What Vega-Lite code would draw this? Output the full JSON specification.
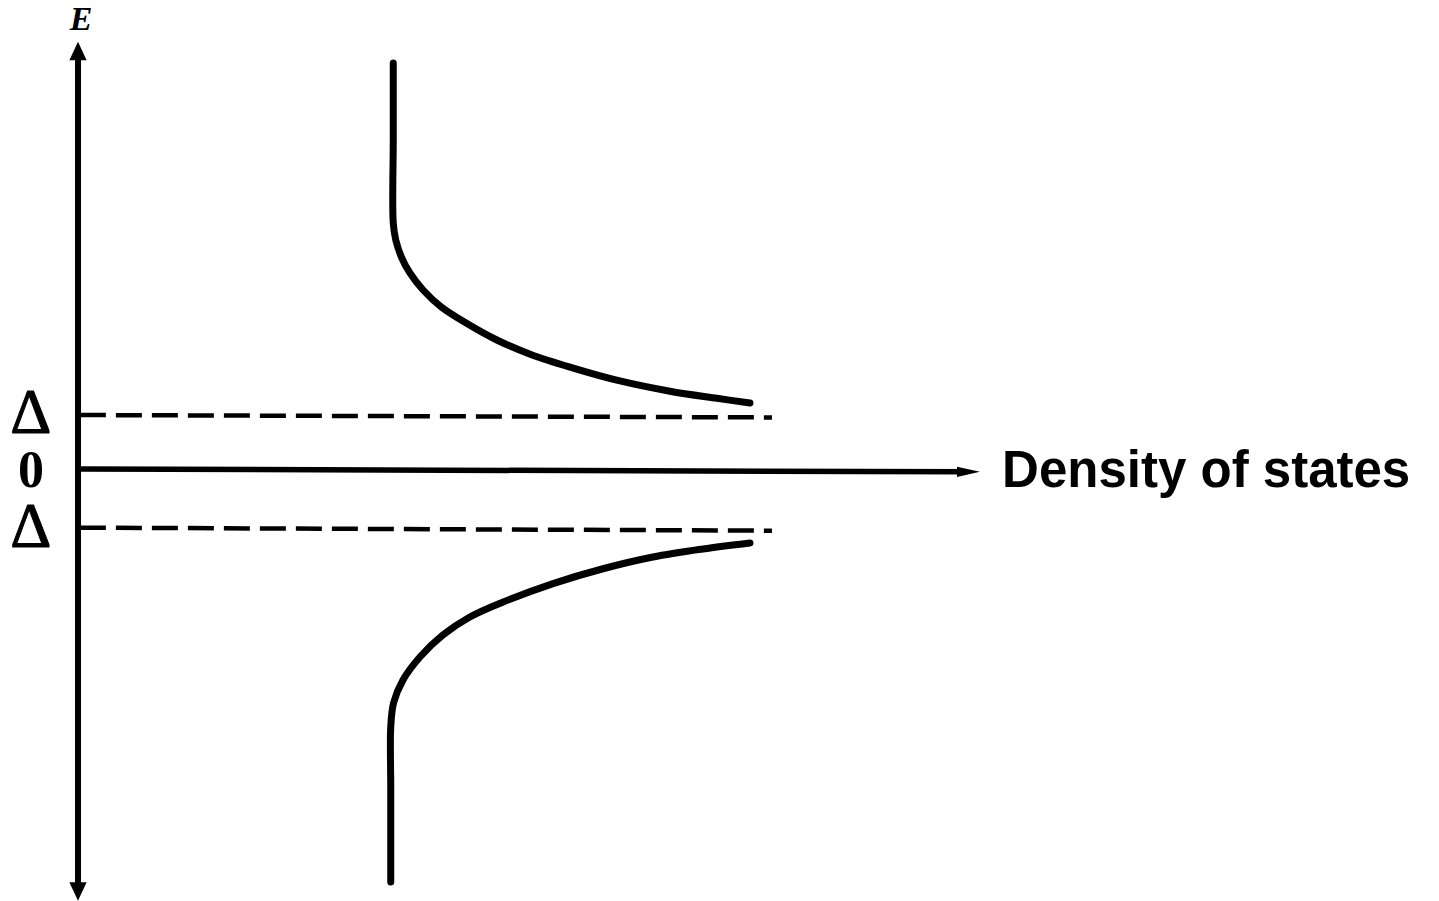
{
  "$schema": "https://vega.github.io/schema/vega-lite/v6.json",
  "width": 1439,
  "height": 901,
  "padding": 0,
  "autosize": {"type": "none"},
  "background": "white",
  "config": {"view": {"stroke": null}},
  "datasets": {
    "curves": [
      {"branch": "upper", "i": 1, "dos": 1.004, "E": 7.158},
      {"branch": "upper", "i": 2, "dos": 1.004, "E": 5.807},
      {"branch": "upper", "i": 3, "dos": 1.004, "E": 4.351},
      {"branch": "upper", "i": 4, "dos": 1.012, "E": 4.053},
      {"branch": "upper", "i": 5, "dos": 1.030, "E": 3.754},
      {"branch": "upper", "i": 6, "dos": 1.057, "E": 3.474},
      {"branch": "upper", "i": 7, "dos": 1.099, "E": 3.175},
      {"branch": "upper", "i": 8, "dos": 1.157, "E": 2.877},
      {"branch": "upper", "i": 9, "dos": 1.236, "E": 2.596},
      {"branch": "upper", "i": 10, "dos": 1.334, "E": 2.298},
      {"branch": "upper", "i": 11, "dos": 1.442, "E": 2.045},
      {"branch": "upper", "i": 12, "dos": 1.572, "E": 1.815},
      {"branch": "upper", "i": 13, "dos": 1.726, "E": 1.580},
      {"branch": "upper", "i": 14, "dos": 1.885, "E": 1.400},
      {"branch": "upper", "i": 15, "dos": 2.035, "E": 1.275},
      {"branch": "upper", "i": 16, "dos": 2.140, "E": 1.193},
      {"branch": "lower", "i": 1, "dos": 2.140, "E": -1.263},
      {"branch": "lower", "i": 2, "dos": 1.990, "E": -1.368},
      {"branch": "lower", "i": 3, "dos": 1.831, "E": -1.509},
      {"branch": "lower", "i": 4, "dos": 1.672, "E": -1.715},
      {"branch": "lower", "i": 5, "dos": 1.513, "E": -1.975},
      {"branch": "lower", "i": 6, "dos": 1.354, "E": -2.298},
      {"branch": "lower", "i": 7, "dos": 1.248, "E": -2.561},
      {"branch": "lower", "i": 8, "dos": 1.162, "E": -2.877},
      {"branch": "lower", "i": 9, "dos": 1.089, "E": -3.263},
      {"branch": "lower", "i": 10, "dos": 1.035, "E": -3.667},
      {"branch": "lower", "i": 11, "dos": 1.005, "E": -4.070},
      {"branch": "lower", "i": 12, "dos": 0.996, "E": -4.491},
      {"branch": "lower", "i": 13, "dos": 0.996, "E": -5.544},
      {"branch": "lower", "i": 14, "dos": 0.996, "E": -7.211}
    ],
    "gaps": [
      {"level": "+Δ", "dos1": 0.006, "dos2": 2.210, "E1": 0.982, "E2": 0.94},
      {"level": "-Δ", "dos1": 0.006, "dos2": 2.210, "E1": -0.994, "E2": -1.047}
    ],
    "eaxis": [{"dos": 0, "E1": 7.3, "E2": -7.3}],
    "dosaxis": [{"dos1": 0.006, "dos2": 2.83, "E1": 0.035, "E2": -0.015}],
    "arrows": [
      {"dir": "up", "dos": 0, "E": 7.368},
      {"dir": "down", "dos": 0, "E": -7.377},
      {"dir": "right", "dos": 2.836, "E": -0.015}
    ],
    "deltas": [
      {"label": "Δ", "dos": -0.150, "E": 0.667},
      {"label": "Δ", "dos": -0.150, "E": -1.333}
    ],
    "zero": [{"label": "0", "dos": -0.150, "E": -0.275}],
    "elabel": [{"label": "E", "dos": 0.0096, "E": 7.737}],
    "xlabel": [{"label": "Density of states", "dos": 2.943, "E": -0.275}]
  },
  "layer": [
    {
      "data": {"name": "eaxis"},
      "mark": {"type": "rule", "color": "black", "strokeWidth": 6},
      "encoding": {
        "x": {"field": "dos", "type": "quantitative", "scale": {"domain": [-0.2484, 4.3344], "nice": false, "zero": false}, "axis": null},
        "y": {"field": "E1", "type": "quantitative", "scale": {"domain": [-7.544, 8.263], "nice": false, "zero": false}, "axis": null},
        "y2": {"field": "E2"}
      }
    },
    {
      "data": {"name": "dosaxis"},
      "mark": {"type": "rule", "color": "black", "strokeWidth": 5.5},
      "encoding": {
        "x": {"field": "dos1", "type": "quantitative"},
        "x2": {"field": "dos2"},
        "y": {"field": "E1", "type": "quantitative"},
        "y2": {"field": "E2"}
      }
    },
    {
      "data": {"name": "gaps"},
      "mark": {"type": "rule", "color": "black", "strokeWidth": 4.5, "strokeDash": [26, 10]},
      "encoding": {
        "x": {"field": "dos1", "type": "quantitative"},
        "x2": {"field": "dos2"},
        "y": {"field": "E1", "type": "quantitative"},
        "y2": {"field": "E2"},
        "detail": {"field": "level"}
      }
    },
    {
      "data": {"name": "arrows"},
      "mark": {"type": "point", "filled": true, "color": "black", "opacity": 1, "size": 529, "strokeWidth": 0},
      "encoding": {
        "x": {"field": "dos", "type": "quantitative"},
        "y": {"field": "E", "type": "quantitative"},
        "shape": {
          "field": "dir",
          "type": "nominal",
          "scale": {
            "domain": ["up", "down", "right"],
            "range": ["M 0 -0.8 L 0.75 0.8 L -0.75 0.8 Z", "M 0 0.8 L 0.75 -0.8 L -0.75 -0.8 Z", "M 1 0 L -1 0.45 L -1 -0.45 Z"]
          },
          "legend": null
        }
      }
    },
    {
      "data": {"name": "curves"},
      "mark": {"type": "line", "color": "black", "strokeWidth": 7, "strokeCap": "round", "interpolate": "catmull-rom"},
      "encoding": {
        "x": {"field": "dos", "type": "quantitative"},
        "y": {"field": "E", "type": "quantitative"},
        "detail": {"field": "branch"},
        "order": {"field": "i", "type": "quantitative"}
      }
    },
    {
      "data": {"name": "deltas"},
      "mark": {"type": "text", "font": "Liberation Serif", "fontWeight": "normal", "fontSize": 64, "align": "center", "baseline": "alphabetic", "color": "black", "stroke": "black", "strokeWidth": 1},
      "encoding": {
        "x": {"field": "dos", "type": "quantitative"},
        "y": {"field": "E", "type": "quantitative"},
        "text": {"field": "label"}
      }
    },
    {
      "data": {"name": "zero"},
      "mark": {"type": "text", "font": "Liberation Serif", "fontWeight": "bold", "fontSize": 52, "align": "center", "baseline": "alphabetic", "color": "black"},
      "encoding": {
        "x": {"field": "dos", "type": "quantitative"},
        "y": {"field": "E", "type": "quantitative"},
        "text": {"field": "label"}
      }
    },
    {
      "data": {"name": "elabel"},
      "mark": {"type": "text", "font": "Liberation Serif", "fontWeight": "bold", "fontStyle": "italic", "fontSize": 34, "align": "center", "baseline": "alphabetic", "color": "black"},
      "encoding": {
        "x": {"field": "dos", "type": "quantitative"},
        "y": {"field": "E", "type": "quantitative"},
        "text": {"field": "label"}
      }
    },
    {
      "data": {"name": "xlabel"},
      "mark": {"type": "text", "font": "Liberation Sans", "fontWeight": "bold", "fontSize": 51, "align": "left", "baseline": "alphabetic", "color": "black"},
      "encoding": {
        "x": {"field": "dos", "type": "quantitative"},
        "y": {"field": "E", "type": "quantitative"},
        "text": {"field": "label"}
      }
    }
  ]
}
